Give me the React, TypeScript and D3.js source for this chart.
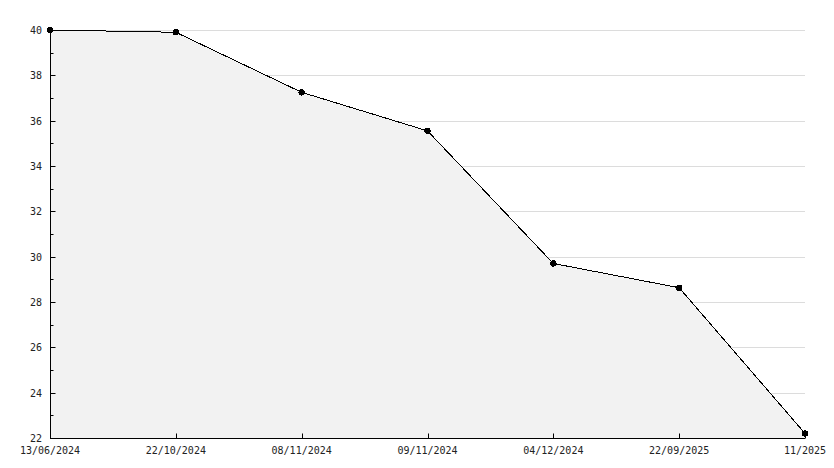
import { useEffect, useRef } from "react"
import * as d3 from "d3"

const dates = ["13/06/2024", "22/10/2024", "08/11/2024", "09/11/2024", "04/12/2024", "22/09/2025", "11/2025"]
const values = [40, 39.9, 37.25, 35.55, 29.7, 28.63, 22.2]
const yTicks = [22, 24, 26, 28, 30, 32, 34, 36, 38, 40]
const yMinorTicks = [23, 25, 27, 29, 31, 33, 35, 37, 39]

const App = () => {
  const svgRef = useRef<SVGSVGElement>(null)

  useEffect(() => {
    const width = 834
    const height = 468
    const margin = { top: 30, right: 29, bottom: 30, left: 50 }

    const svg = d3.select(svgRef.current)
    svg.selectAll("*").remove()

    const x = d3
      .scalePoint<string>()
      .domain(dates)
      .range([margin.left, width - margin.right])
    const y = d3
      .scaleLinear()
      .domain([22, 40])
      .range([height - margin.bottom, margin.top])

    const font = "'DejaVu Sans Mono', monospace"

    // gridlines
    svg
      .append("g")
      .selectAll("line")
      .data(yTicks.slice(1))
      .enter()
      .append("line")
      .attr("x1", margin.left)
      .attr("x2", width - margin.right)
      .attr("y1", (d) => Math.round(y(d)) + 0.5)
      .attr("y2", (d) => Math.round(y(d)) + 0.5)
      .attr("stroke", "#dcdcdc")
      .attr("stroke-width", 1)

    // area
    const pts = dates.map((d, i) => [x(d) as number, y(values[i])] as [number, number])
    const area = d3
      .area<[number, number]>()
      .x((d) => d[0])
      .y0(y(22))
      .y1((d) => d[1])
    svg.append("path").attr("d", area(pts)).attr("fill", "#f2f2f2")

    // line
    svg
      .append("path")
      .attr("d", d3.line()(pts))
      .attr("fill", "none")
      .attr("stroke", "#000")
      .attr("stroke-width", 1)
      .attr("shape-rendering", "crispEdges")

    // markers
    svg
      .append("g")
      .selectAll("circle")
      .data(pts)
      .enter()
      .append("circle")
      .attr("cx", (d) => d[0])
      .attr("cy", (d) => d[1])
      .attr("r", 3.2)
      .attr("fill", "#000")
      .attr("shape-rendering", "crispEdges")

    // y axis
    const axisX = margin.left + 0.5
    svg
      .append("line")
      .attr("x1", axisX)
      .attr("x2", axisX)
      .attr("y1", y(40))
      .attr("y2", y(22))
      .attr("stroke", "#000")
    svg
      .append("g")
      .selectAll("line")
      .data(yTicks)
      .enter()
      .append("line")
      .attr("x1", axisX)
      .attr("x2", axisX + 5)
      .attr("y1", (d) => Math.round(y(d)) + 0.5)
      .attr("y2", (d) => Math.round(y(d)) + 0.5)
      .attr("stroke", "#000")
    svg
      .append("g")
      .selectAll("line")
      .data(yMinorTicks)
      .enter()
      .append("line")
      .attr("x1", axisX)
      .attr("x2", axisX + 3)
      .attr("y1", (d) => Math.round(y(d)) + 0.5)
      .attr("y2", (d) => Math.round(y(d)) + 0.5)
      .attr("stroke", "#000")
    svg
      .append("g")
      .selectAll("text")
      .data(yTicks)
      .enter()
      .append("text")
      .attr("x", 42)
      .attr("y", (d) => y(d) + 4)
      .attr("text-anchor", "end")
      .attr("fill", "#222")
      .style("font-family", font)
      .style("font-size", "10px")
      .text((d) => d)

    // x axis
    const axisY = Math.round(y(22)) + 0.5
    svg
      .append("line")
      .attr("x1", margin.left)
      .attr("x2", width - margin.right)
      .attr("y1", axisY)
      .attr("y2", axisY)
      .attr("stroke", "#000")
    svg
      .append("g")
      .selectAll("line")
      .data(dates)
      .enter()
      .append("line")
      .attr("x1", (d) => Math.round(x(d) as number) + 0.5)
      .attr("x2", (d) => Math.round(x(d) as number) + 0.5)
      .attr("y1", axisY)
      .attr("y2", axisY - 5)
      .attr("stroke", "#000")
    svg
      .append("g")
      .selectAll("text")
      .data(dates)
      .enter()
      .append("text")
      .attr("x", (d) => x(d) as number)
      .attr("y", axisY + 15)
      .attr("text-anchor", "middle")
      .attr("fill", "#222")
      .style("font-family", font)
      .style("font-size", "10px")
      .text((d) => d)
  }, [])

  return (
    <div style={{ position: "absolute", left: 0, top: 0 }}>
      <svg ref={svgRef} width={834} height={468} style={{ display: "block", background: "#fff" }}></svg>
    </div>
  )
}

export default App
